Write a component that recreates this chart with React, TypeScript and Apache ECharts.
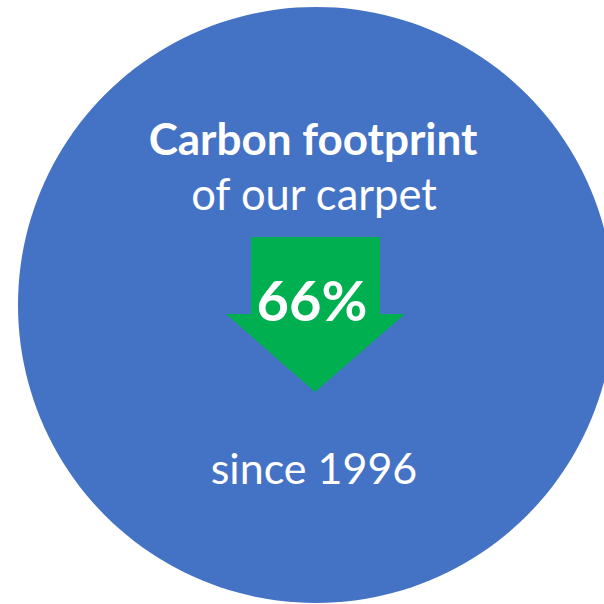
import React, { useEffect, useRef } from "react";
import * as echarts from "echarts";

const titleLines = ["Carbon footprint", "of our carpet"];
const reductionPercent = [66];
const sinceYear = [1996];

export default function App() {
  const ref = useRef<HTMLDivElement>(null);
  useEffect(() => {
    if (!ref.current) return;
    const chart = echarts.init(ref.current, null, { renderer: "svg" });
    const cx = 316;
    const cy = 305;
    const r = 298;
    const font = "Lato, 'Open Sans', sans-serif";
    chart.setOption({
      animation: false,
      graphic: [
        {
          type: "circle",
          shape: { cx, cy, r },
          style: { fill: "#4472C4" },
        },
        {
          type: "polygon",
          shape: {
            points: [
              [251, 237],
              [380, 237],
              [380, 314],
              [405, 314],
              [315, 392],
              [226, 314],
              [251, 314],
            ],
          },
          style: { fill: "#00B050" },
        },
        {
          type: "text",
          x: 313,
          y: 138,
          style: {
            text: titleLines[0],
            fill: "#fff",
            font: `bold 44px ${font}`,
            align: "center",
            verticalAlign: "middle",
          },
        },
        {
          type: "text",
          x: 314,
          y: 193,
          style: {
            text: titleLines[1],
            fill: "#fff",
            font: `43.5px ${font}`,
            align: "center",
            verticalAlign: "middle",
          },
        },
        {
          type: "text",
          x: 312,
          y: 299,
          style: {
            text: `${reductionPercent[0]}%`,
            fill: "#fff",
            font: `bold 56px ${font}`,
            align: "center",
            verticalAlign: "middle",
          },
        },
        {
          type: "text",
          x: 314,
          y: 467,
          style: {
            text: `since ${sinceYear[0]}`,
            fill: "#fff",
            font: `43px ${font}`,
            align: "center",
            verticalAlign: "middle",
          },
        },
      ],
    });
    return () => chart.dispose();
  }, []);
  return <div ref={ref} style={{ width: 604, height: 604, position: "absolute", left: 0, top: 0 }} />;
}
